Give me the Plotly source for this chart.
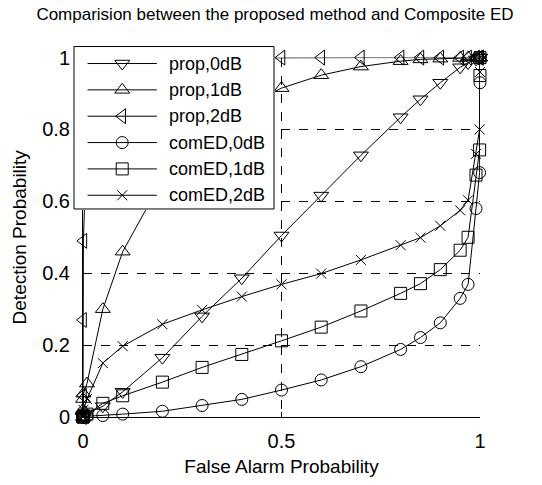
import plotly.graph_objects as go

# ---------------- data ----------------
false_alarm = [0, 1e-5, 1e-4, 1e-3, 0.01, 0.05, 0.1, 0.2, 0.3, 0.4, 0.5, 0.6, 0.7,
               0.8, 0.85, 0.9, 0.95, 0.97, 0.99, 0.999, 0.9999, 1]

prop_0dB = [0, 0.0, 0.001, 0.005, 0.01, 0.03, 0.07, 0.165, 0.28, 0.386, 0.505, 0.616,
            0.728, 0.834, 0.884, 0.93, 0.973, 0.985, 0.995, 0.999, 1, 1]
prop_1dB = [0, 0.02, 0.05, 0.065, 0.093, 0.30, 0.46, 0.66, 0.78, 0.86, 0.915, 0.951,
            0.975, 0.99, 0.995, 0.997, 0.999, 1, 1, 1, 1, 1]
prop_2dB = [0, 0.06, 0.27, 0.49, 0.80, 0.97, 0.99, 0.995, 0.998, 0.999, 1, 1,
            1, 1, 1, 1, 1, 1, 1, 1, 1, 1]
comED_0dB = [0, 0, 0, 0.001, 0.002, 0.004, 0.008, 0.016, 0.032, 0.049, 0.075, 0.103,
             0.14, 0.188, 0.221, 0.262, 0.33, 0.369, 0.58, 0.68, 0.93, 1]
comED_1dB = [0, 0, 0.001, 0.003, 0.008, 0.038, 0.059, 0.097, 0.138, 0.174, 0.212, 0.25,
             0.295, 0.344, 0.371, 0.41, 0.464, 0.50, 0.673, 0.743, 0.95, 1]
comED_2dB = [0, 0.005, 0.01, 0.02, 0.05, 0.15, 0.197, 0.258, 0.298, 0.335, 0.369, 0.399,
             0.437, 0.478, 0.499, 0.532, 0.575, 0.603, 0.732, 0.80, 0.96, 1]

series_names = ["prop,0dB", "prop,1dB", "prop,2dB", "comED,0dB", "comED,1dB", "comED,2dB"]
series_values = [prop_0dB, prop_1dB, prop_2dB, comED_0dB, comED_1dB, comED_2dB]
series_symbols = ["triangle-down-open", "triangle-up-open", "triangle-left-open",
                  "circle-open", "square-open", "x-thin-open"]
series_sizes = [13, 13, 13, 12, 12, 10]

x_ticks = [0, 0.5, 1]
x_ticklabels = ["0", "0.5", "1"]
y_ticks = [0, 0.2, 0.4, 0.6, 0.8, 1]
y_ticklabels = ["0", "0.2", "0.4", "0.6", "0.8", "1"]

title_text = "Comparision between the proposed method and Composite ED"
x_title = "False Alarm Probability"
y_title = "Detection Probability"

FONT = "Arial, Liberation Sans, Helvetica, sans-serif"

# ---------------- figure geometry (pixels) ----------------
W, H = 542, 485
ML, MR, MT, MB = 70, 62, 40, 59
PW = W - ML - MR
PH = H - MT - MB
plot_left, plot_top = 83, 58
leg_left, leg_right, leg_top, leg_bottom = 73, 275, 45.7, 214
LW = leg_right - leg_left
LH = leg_bottom - leg_top

fig = go.Figure()

for name, vals, sym, sz in zip(series_names, series_values, series_symbols, series_sizes):
    fig.add_trace(go.Scatter(
        x=false_alarm, y=vals, mode="lines+markers", name=name,
        line=dict(color="black", width=1),
        marker=dict(symbol=sym, size=sz, color="black", line=dict(color="black", width=1)),
        cliponaxis=False, showlegend=False, xaxis="x", yaxis="y"))

# ---------------- custom legend (MATLAB style) ----------------
fig.add_trace(go.Scatter(
    x=[0, LW, LW, 0, 0], y=[0, 0, LH, LH, 0], mode="lines", fill="toself",
    fillcolor="white", line=dict(color="black", width=1), hoverinfo="skip",
    showlegend=False, xaxis="x2", yaxis="y2"))

row0, rowstep = 17.6, 27.3
ls0, ls1, lm, lt = 13.7, 83.7, 48.7, 93.7
for i, (name, sym, sz) in enumerate(zip(series_names, series_symbols, series_sizes)):
    ry = LH - (row0 + rowstep * i)
    fig.add_trace(go.Scatter(
        x=[ls0, ls1], y=[ry, ry], mode="lines", line=dict(color="black", width=1),
        hoverinfo="skip", showlegend=False, xaxis="x2", yaxis="y2"))
    fig.add_trace(go.Scatter(
        x=[lm], y=[ry], mode="markers",
        marker=dict(symbol=sym, size=sz, color="black", line=dict(color="black", width=1)),
        hoverinfo="skip", showlegend=False, xaxis="x2", yaxis="y2"))
    fig.add_annotation(x=lt, y=ry, xref="x2", yref="y2", text=name, showarrow=False,
                       xanchor="left", yanchor="middle",
                       font=dict(family=FONT, size=18, color="black"))

main_x_domain = [(plot_left - ML) / PW, 1]
main_y_domain = [0, (H - MB - plot_top) / PH]
leg_x_domain = [(leg_left - ML) / PW, (leg_right - ML) / PW]
leg_y_domain = [(H - MB - leg_bottom) / PH, (H - MB - leg_top) / PH]

axis_common = dict(
    showline=True, linecolor="black", linewidth=1, mirror=False,
    ticks="inside", ticklen=5, tickcolor="black", tickwidth=1,
    showgrid=True, gridcolor="black", gridwidth=1, griddash="dash",
    zeroline=False, tickfont=dict(family=FONT, size=20, color="black"),
)

fig.update_layout(
    width=W, height=H, margin=dict(l=ML, r=MR, t=MT, b=MB),
    paper_bgcolor="white", plot_bgcolor="white",
    font=dict(family=FONT, color="black"),
    title=dict(text=title_text, x=0.5, xref="paper", xanchor="center",
               y=1 - 14 / H, yref="container", yanchor="middle",
               font=dict(family=FONT, size=17, color="black")),
    xaxis=dict(domain=main_x_domain, range=[0, 1], tickvals=x_ticks,
               ticktext=x_ticklabels, ticklabelstandoff=6,
               title=dict(text=x_title, standoff=8,
                          font=dict(family=FONT, size=19, color="black")),
               **axis_common),
    yaxis=dict(domain=main_y_domain, range=[0, 1], tickvals=y_ticks,
               ticktext=y_ticklabels, ticklabelstandoff=8,
               title=dict(text=y_title, standoff=10,
                          font=dict(family=FONT, size=19, color="black")),
               **axis_common),
    xaxis2=dict(domain=leg_x_domain, range=[-1, LW + 1], visible=False,
                anchor="y2", fixedrange=True),
    yaxis2=dict(domain=leg_y_domain, range=[-1, LH + 1], visible=False,
                anchor="x2", fixedrange=True),
)

fig.write_html("out.html")
